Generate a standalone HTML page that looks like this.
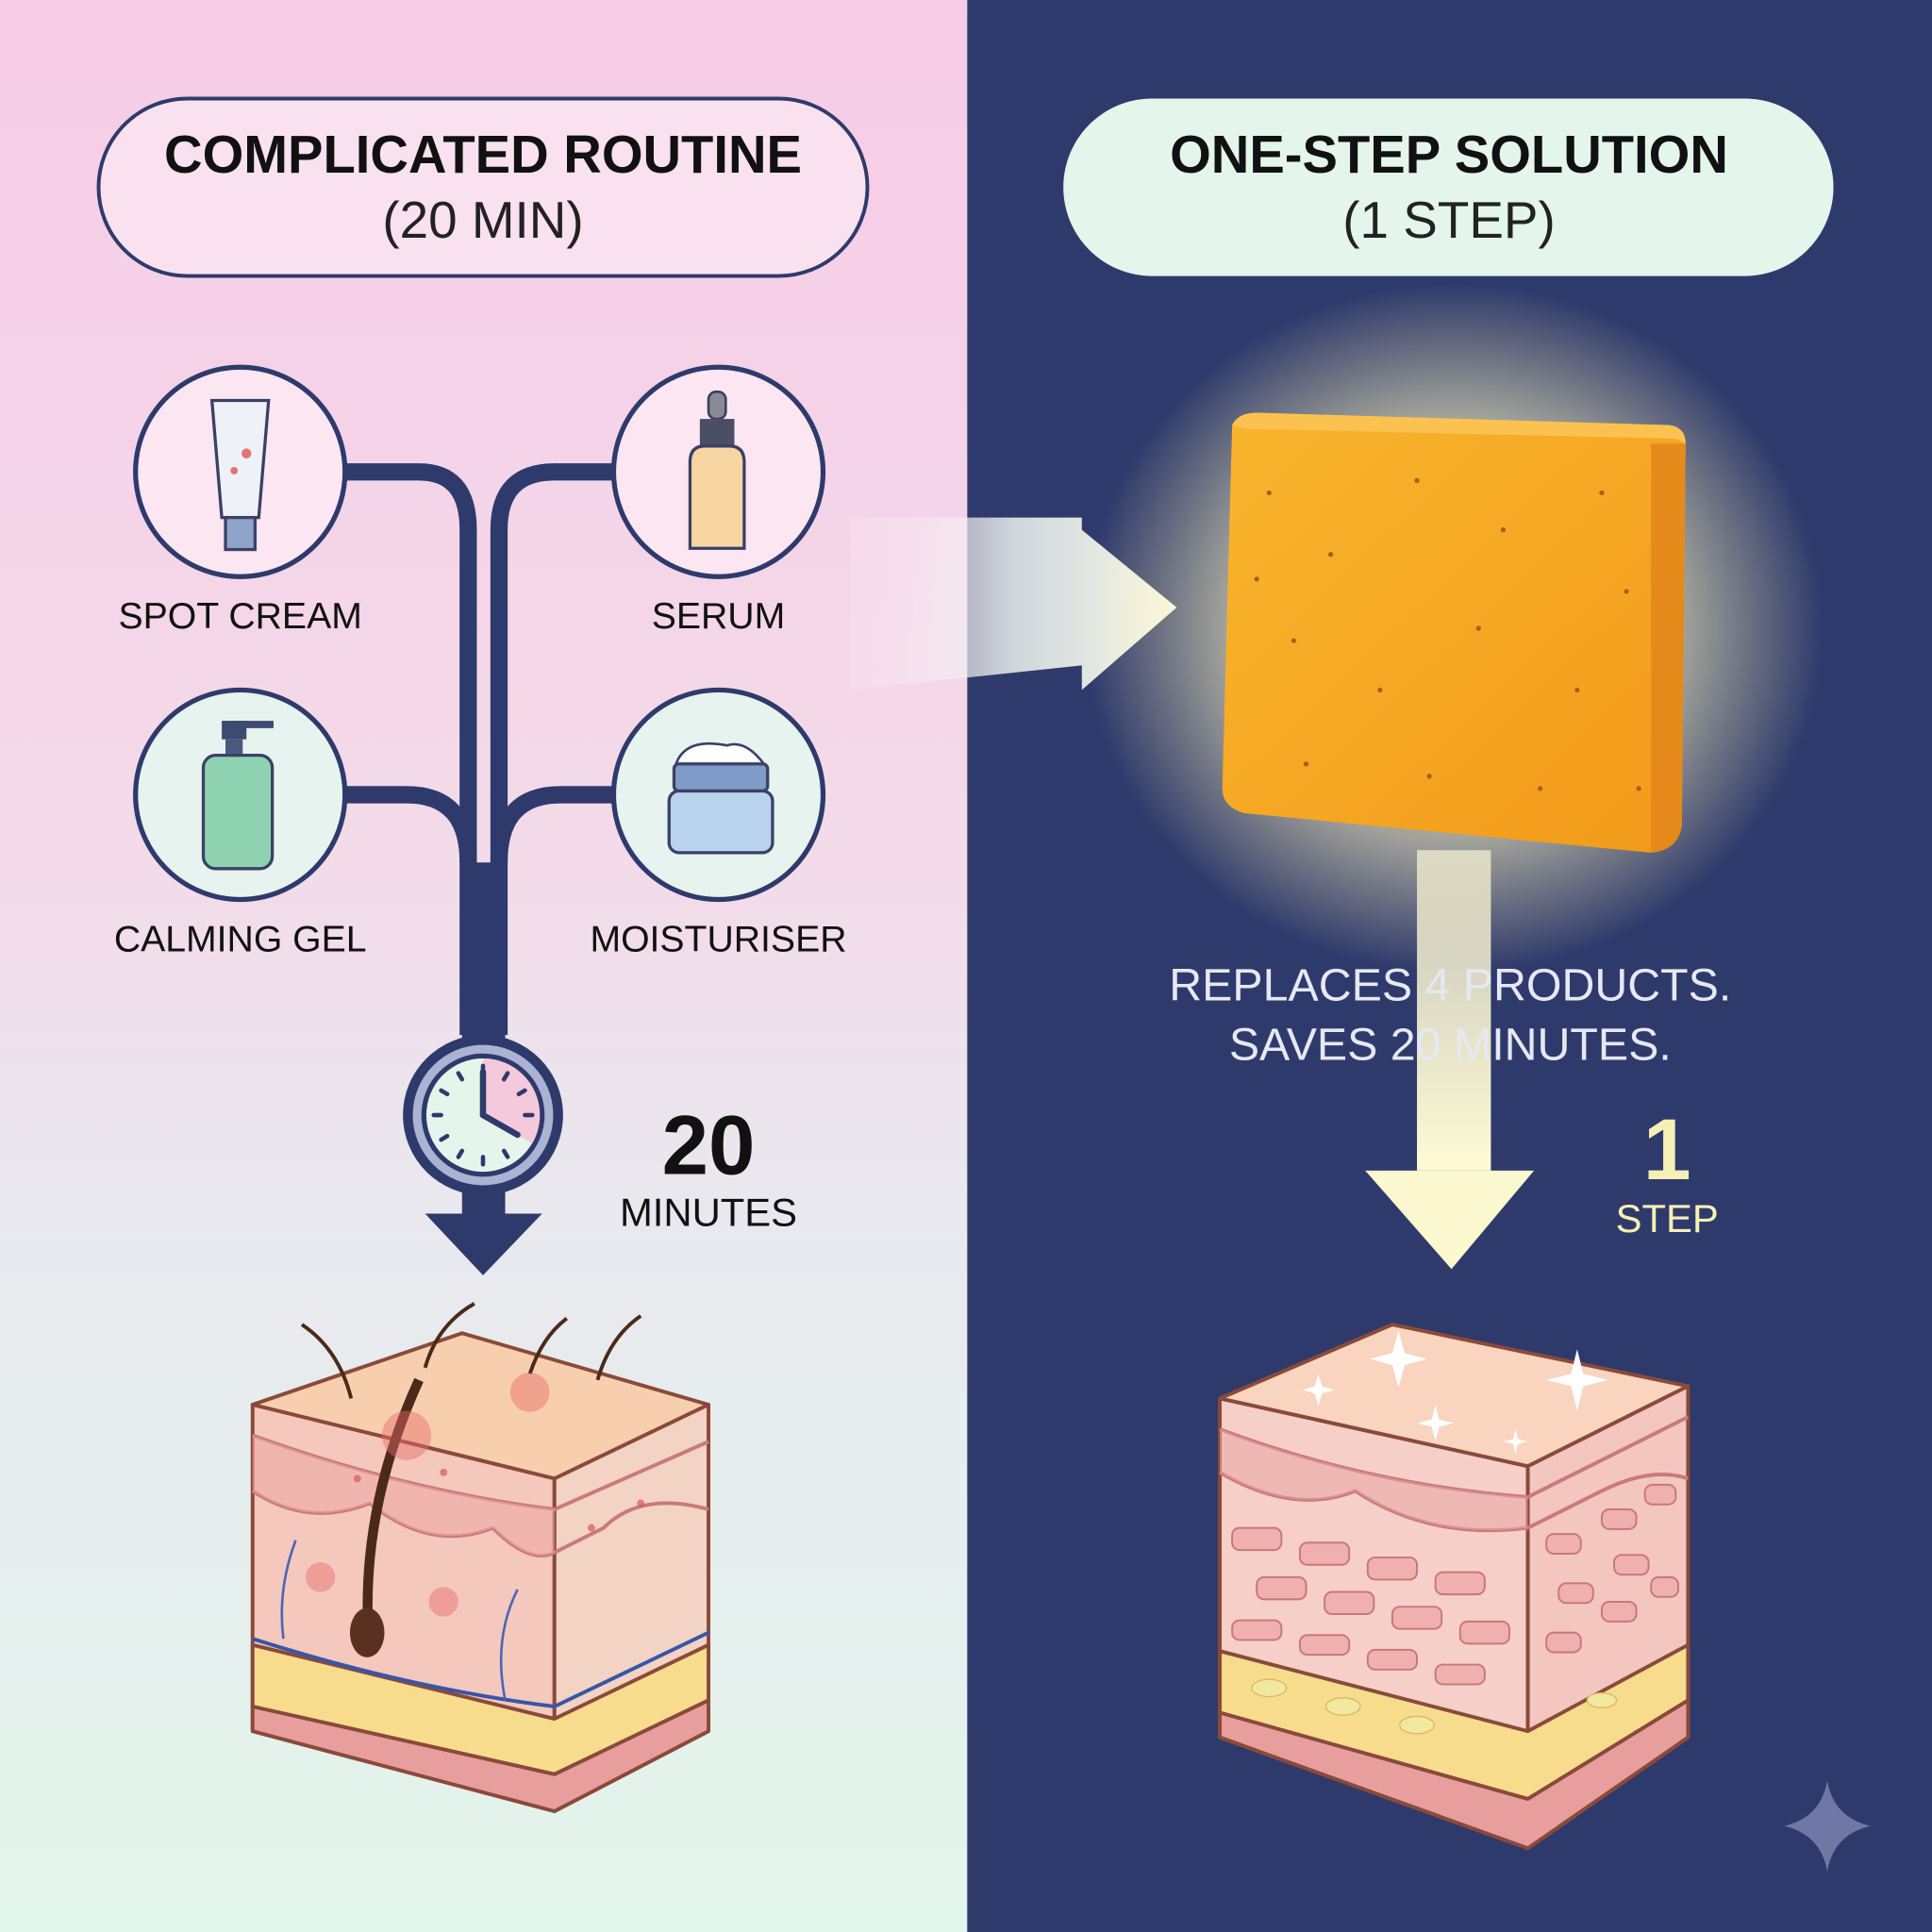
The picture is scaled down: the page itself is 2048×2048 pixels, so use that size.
<!DOCTYPE html>
<html><head><meta charset="utf-8"><style>
html,body{margin:0;padding:0;width:2048px;height:2048px;overflow:hidden}
svg{display:block}
text{font-family:"Liberation Sans",sans-serif}
</style></head><body>
<svg width="2048" height="2048" viewBox="0 0 1568 1568" xmlns="http://www.w3.org/2000/svg">
<defs>
<linearGradient id="lbg" x1="0" y1="0" x2="0" y2="1">
<stop offset="0" stop-color="#f6cbe6"/><stop offset="0.45" stop-color="#f3dbe9"/><stop offset="0.62" stop-color="#e9e8ee"/><stop offset="1" stop-color="#e2f5ec"/>
</linearGradient>
<radialGradient id="glow" cx="0.5" cy="0.5" r="0.5">
<stop offset="0" stop-color="#fffbd0" stop-opacity="1"/><stop offset="0.62" stop-color="#fff6c0" stop-opacity="0.55"/><stop offset="1" stop-color="#fff6b0" stop-opacity="0"/>
</radialGradient>
<linearGradient id="soap" x1="0" y1="0" x2="1" y2="1">
<stop offset="0" stop-color="#f9b52e"/><stop offset="1" stop-color="#f29a1a"/>
</linearGradient>
<linearGradient id="beam" x1="0" y1="0" x2="0" y2="1">
<stop offset="0" stop-color="#f3f0d0" stop-opacity="0.75"/><stop offset="1" stop-color="#fffbd6" stop-opacity="1"/>
</linearGradient>
<linearGradient id="bigarrow" x1="0" y1="0" x2="1" y2="0">
<stop offset="0" stop-color="#fde6f2" stop-opacity="0.3"/><stop offset="0.5" stop-color="#eef2f0" stop-opacity="0.85"/><stop offset="1" stop-color="#f6f8e8"/>
</linearGradient>
</defs>
<rect x="0" y="0" width="785" height="1568" fill="url(#lbg)"/>
<rect x="785" y="0" width="783" height="1568" fill="#2f3a6c"/>

<rect x="80" y="80" width="624" height="144" rx="72" fill="#f9e1ef" stroke="#2f3a6c" stroke-width="3"/>
<text x="392" y="140" text-anchor="middle" font-size="43" font-weight="bold" fill="#111">COMPLICATED ROUTINE</text>
<text x="392" y="193" text-anchor="middle" font-size="42" fill="#222">(20 MIN)</text>
<rect x="863" y="80" width="625" height="144" rx="72" fill="#e4f6ec"/>
<text x="1176" y="140" text-anchor="middle" font-size="43" font-weight="bold" fill="#111">ONE-STEP SOLUTION</text>
<text x="1176" y="193" text-anchor="middle" font-size="42" fill="#222">(1 STEP)</text>

<polygon points="690,420 878,420 878,430 955,493 878,560 878,540 690,560" fill="url(#bigarrow)"/>

<g fill="none" stroke="#2f3a6c" stroke-width="14">
<path d="M278,383 H340 Q380,383 380,430 V840"/>
<path d="M500,383 H450 Q405,383 405,430 V840"/>
<path d="M278,645 H330 Q380,645 380,700"/>
<path d="M500,645 H455 Q405,645 405,700"/>
</g>
<rect x="375" y="700" width="35" height="150" fill="#2f3a6c"/>
<rect x="375" y="960" width="35" height="30" fill="#2f3a6c"/>
<polygon points="345,985 440,985 392,1035" fill="#2f3a6c"/>
<circle cx="392" cy="905" r="65" fill="#2f3a6c"/>
<circle cx="392" cy="905" r="57" fill="#aab3d3"/>
<circle cx="392" cy="905" r="50" fill="#2f3a6c"/>
<circle cx="392" cy="905" r="46" fill="#e6f5ec"/>
<path d="M392,905 L392,859 A46,46 0 0 1 432,928 Z" fill="#f4c9dc"/>
<g stroke="#2f3a6c" stroke-width="3.5" stroke-linecap="round">
<line x1="392" y1="865" x2="392" y2="871"/><line x1="392" y1="939" x2="392" y2="945"/>
<line x1="352" y1="905" x2="358" y2="905"/><line x1="426" y1="905" x2="432" y2="905"/>
<line x1="412" y1="871" x2="409" y2="876"/><line x1="372" y1="871" x2="375" y2="876"/>
<line x1="372" y1="939" x2="375" y2="934"/><line x1="412" y1="939" x2="409" y2="934"/>
<line x1="358" y1="885" x2="363" y2="888"/><line x1="426" y1="885" x2="421" y2="888"/>
<line x1="358" y1="925" x2="363" y2="922"/>
<line x1="392" y1="905" x2="392" y2="870" stroke-width="5"/><line x1="392" y1="905" x2="420" y2="921" stroke-width="5"/>
</g>
<text x="575" y="953" text-anchor="middle" font-size="68" font-weight="bold" fill="#111">20</text>
<text x="575" y="995" text-anchor="middle" font-size="32" fill="#111">MINUTES</text>

<g stroke="#2f3a6c" stroke-width="4">
<circle cx="195" cy="383" r="85" fill="#fbe6f1"/>
<circle cx="583" cy="383" r="85" fill="#fbe6f1"/>
<circle cx="195" cy="645" r="85" fill="#e6f3ee"/>
<circle cx="583" cy="645" r="85" fill="#e6f3ee"/>
</g>
<path d="M172,325 H218 L210,420 H180 Z" fill="#eef1f8" stroke="#3a4066" stroke-width="2.5"/>
<rect x="183" y="420" width="24" height="26" fill="#8fa4c8" stroke="#3a4066" stroke-width="2.5"/>
<circle cx="200" cy="368" r="4" fill="#e57373"/><circle cx="190" cy="382" r="3" fill="#e57373"/>
<rect x="575" y="318" width="14" height="22" rx="6" fill="#8a8a95" stroke="#3a4066" stroke-width="2"/>
<rect x="568" y="340" width="28" height="22" fill="#4b4f66"/>
<path d="M560,375 Q560,362 572,362 H592 Q604,362 604,375 V445 H560 Z" fill="#f8d6a2" stroke="#3a4066" stroke-width="2.5"/>
<rect x="180" y="585" width="20" height="15" fill="#3d4a72"/>
<path d="M190,588 H222" stroke="#3d4a72" stroke-width="6"/>
<rect x="183" y="600" width="14" height="14" fill="#4a5a7c"/>
<rect x="165" y="613" width="56" height="92" rx="10" fill="#8fd2b2" stroke="#3a4066" stroke-width="2.5"/>
<path d="M548,622 Q555,598 590,605 Q605,600 620,620 Z" fill="#fff" stroke="#3a4066" stroke-width="2"/>
<rect x="547" y="620" width="76" height="22" rx="4" fill="#7f9bc8" stroke="#3a4066" stroke-width="2.5"/>
<rect x="543" y="642" width="84" height="50" rx="8" fill="#b9d2ee" stroke="#3a4066" stroke-width="2.5"/>

<g font-size="30" fill="#111" text-anchor="middle">
<text x="195" y="510">SPOT CREAM</text>
<text x="583" y="510">SERUM</text>
<text x="195" y="772">CALMING GEL</text>
<text x="583" y="772">MOISTURISER</text>
</g>

<!-- left skin cube -->
<g stroke="#8a4a3a" stroke-width="3" stroke-linejoin="round">
<polygon points="205,1140 375,1082 575,1140 450,1200" fill="#f8cfae"/>
<polygon points="205,1140 450,1200 450,1470 205,1405" fill="#f4c8bc"/>
<polygon points="450,1200 575,1140 575,1405 450,1470" fill="#f2d3c4"/>
<polygon points="205,1335 450,1395 575,1335 575,1380 450,1440 205,1385" fill="#f7dc8e"/>
<polygon points="205,1385 450,1440 575,1380 575,1405 450,1470 205,1405" fill="#e99e9e"/>
<path d="M205,1165 Q330,1210 450,1225 L575,1170" fill="none" stroke="#c97a7a"/>
<path d="M205,1210 Q250,1240 300,1220 Q350,1260 400,1240 Q430,1270 450,1260 L490,1240 Q520,1210 575,1225" fill="none" stroke="#c97a7a"/>
</g>
<path d="M205,1165 Q330,1210 450,1225 L450,1260 Q430,1270 400,1240 Q350,1260 300,1220 Q250,1240 205,1210Z" fill="#eea8a8" opacity="0.6"/>
<path d="M205,1330 Q330,1370 450,1385 L575,1325" fill="none" stroke="#3856a8" stroke-width="3"/>
<g fill="none" stroke="#4a66b8" stroke-width="2"><path d="M230,1330 Q225,1290 240,1250"/><path d="M410,1380 Q400,1330 420,1290"/></g>
<path d="M340,1120 Q290,1230 300,1340" fill="none" stroke="#4a2a1a" stroke-width="8"/>
<ellipse cx="298" cy="1325" rx="14" ry="20" fill="#5a3020"/>
<g fill="none" stroke="#4a2a1a" stroke-width="3">
<path d="M285,1135 Q275,1095 245,1075"/><path d="M345,1110 Q355,1075 385,1058"/><path d="M430,1115 Q440,1085 460,1070"/><path d="M485,1120 Q495,1085 520,1068"/>
</g>
<g fill="#e86a6a" opacity="0.45"><circle cx="330" cy="1165" r="20"/><circle cx="430" cy="1130" r="16"/><circle cx="260" cy="1280" r="12"/><circle cx="360" cy="1300" r="12"/></g>
<g fill="#d65a5a" opacity="0.7"><circle cx="290" cy="1200" r="3"/><circle cx="360" cy="1195" r="3"/><circle cx="480" cy="1240" r="3"/><circle cx="520" cy="1220" r="3"/></g>

<!-- soap -->
<ellipse cx="1180" cy="510" rx="300" ry="280" fill="url(#glow)"/>
<rect x="1150" y="690" width="60" height="260" fill="url(#beam)"/>
<polygon points="1108,950 1245,950 1178,1030" fill="#fcf8cf"/>
<path d="M1000,345 Q1005,335 1020,335 L1355,345 Q1368,347 1368,360 L1365,670 Q1362,690 1340,692 L1010,660 Q992,655 992,640 Z" fill="url(#soap)"/>
<path d="M1000,345 Q1005,335 1020,335 L1355,345 Q1368,347 1368,360 L1360,356 L1010,348 Z" fill="#fbc252"/>
<path d="M1340,360 L1368,360 L1365,670 Q1362,690 1340,692 Z" fill="#e0851a" opacity="0.8"/>
<g fill="#b35a10">
<circle cx="1030" cy="400" r="2"/><circle cx="1080" cy="450" r="2"/><circle cx="1150" cy="390" r="2"/><circle cx="1220" cy="430" r="2"/><circle cx="1300" cy="400" r="2"/><circle cx="1050" cy="520" r="2"/><circle cx="1120" cy="560" r="2"/><circle cx="1200" cy="510" r="2"/><circle cx="1280" cy="560" r="2"/><circle cx="1320" cy="480" r="2"/><circle cx="1060" cy="620" r="2"/><circle cx="1160" cy="630" r="2"/><circle cx="1250" cy="640" r="2"/><circle cx="1330" cy="640" r="2"/><circle cx="1020" cy="470" r="2"/>
</g>

<text x="1177" y="812" text-anchor="middle" font-size="37" fill="#e6e8f2">REPLACES 4 PRODUCTS.</text>
<text x="1177" y="860" text-anchor="middle" font-size="37" fill="#e6e8f2">SAVES 20 MINUTES.</text>
<text x="1353" y="957" text-anchor="middle" font-size="70" font-weight="bold" fill="#f5f0b4">1</text>
<text x="1353" y="1000" text-anchor="middle" font-size="32" fill="#f5f0b4">STEP</text>

<!-- right skin cube -->
<g stroke="#8a4a3a" stroke-width="3" stroke-linejoin="round">
<polygon points="990,1135 1130,1075 1370,1125 1240,1190" fill="#f9d4bf"/>
<polygon points="990,1135 1240,1190 1240,1500 990,1410" fill="#f6cfc8"/>
<polygon points="1240,1190 1370,1125 1370,1410 1240,1500" fill="#f3c6c0"/>
<polygon points="990,1340 1240,1405 1370,1335 1370,1380 1240,1460 990,1390" fill="#f7dc8e"/>
<polygon points="990,1390 1240,1460 1370,1380 1370,1410 1240,1500 990,1410" fill="#e99e9e"/>
<path d="M990,1160 Q1110,1205 1240,1215 L1370,1150" fill="none" stroke="#c97a7a"/>
<path d="M990,1195 Q1050,1230 1100,1210 Q1160,1250 1240,1240 L1300,1210 Q1340,1190 1370,1200" fill="none" stroke="#c97a7a"/>
</g>
<path d="M990,1160 Q1110,1205 1240,1215 L1240,1240 Q1160,1250 1100,1210 Q1050,1230 990,1195Z" fill="#eaa6a6" opacity="0.55"/>
<g fill="#f0b0b0" stroke="#c87878" stroke-width="1.5">
<rect x="1000" y="1240" width="40" height="18" rx="6"/><rect x="1055" y="1252" width="40" height="18" rx="6"/><rect x="1110" y="1264" width="40" height="18" rx="6"/><rect x="1165" y="1276" width="40" height="18" rx="6"/>
<rect x="1020" y="1280" width="40" height="18" rx="6"/><rect x="1075" y="1292" width="40" height="18" rx="6"/><rect x="1130" y="1304" width="40" height="18" rx="6"/><rect x="1185" y="1316" width="40" height="18" rx="6"/>
<rect x="1000" y="1315" width="40" height="16" rx="6"/><rect x="1055" y="1327" width="40" height="16" rx="6"/><rect x="1110" y="1339" width="40" height="16" rx="6"/><rect x="1165" y="1351" width="40" height="16" rx="6"/>
<rect x="1255" y="1245" width="28" height="16" rx="6"/><rect x="1300" y="1225" width="28" height="16" rx="6"/><rect x="1335" y="1205" width="25" height="16" rx="6"/>
<rect x="1265" y="1285" width="28" height="16" rx="6"/><rect x="1310" y="1262" width="28" height="16" rx="6"/>
<rect x="1255" y="1325" width="28" height="16" rx="6"/><rect x="1300" y="1300" width="28" height="16" rx="6"/><rect x="1340" y="1280" width="22" height="16" rx="6"/>
</g>
<g fill="#f2e8a0" stroke="#d8b860" stroke-width="1"><ellipse cx="1030" cy="1370" rx="14" ry="7"/><ellipse cx="1090" cy="1385" rx="14" ry="7"/><ellipse cx="1150" cy="1400" rx="14" ry="7"/><ellipse cx="1300" cy="1380" rx="12" ry="6"/></g>
<g fill="#fff">
<path d="M1135,1080 l5,18 18,5 -18,5 -5,18 -5,-18 -18,-5 18,-5z"/>
<path d="M1280,1095 l5,20 20,5 -20,5 -5,20 -5,-20 -20,-5 20,-5z"/>
<path d="M1070,1115 l3,10 10,3 -10,3 -3,10 -3,-10 -10,-3 10,-3z"/>
<path d="M1165,1140 l3,12 12,3 -12,3 -3,12 -3,-12 -12,-3 12,-3z"/>
<path d="M1230,1160 l2,8 8,2 -8,2 -2,8 -2,-8 -8,-2 8,-2z"/>
</g>
<path d="M1483,1445 Q1488,1475 1518,1482 Q1488,1489 1483,1519 Q1478,1489 1448,1482 Q1478,1475 1483,1445Z" fill="#8a93bd" opacity="0.7"/>
</svg>
</body></html>
